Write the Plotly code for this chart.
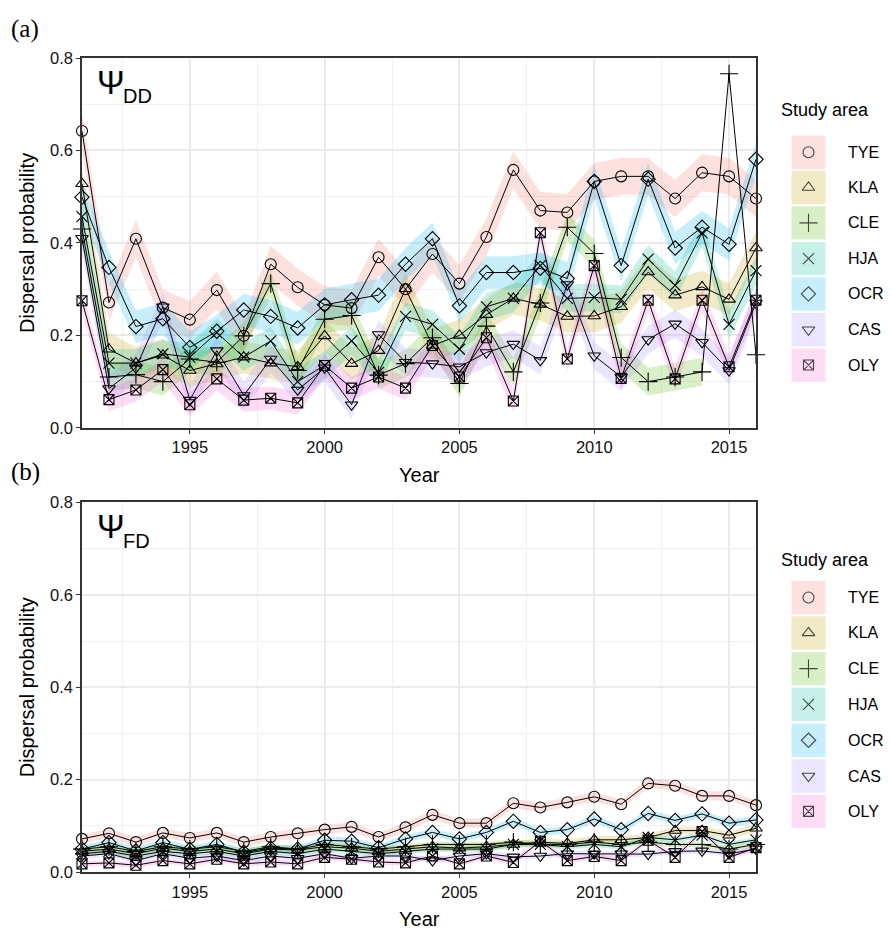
import plotly.graph_objects as go

W, H = 892, 941

years = list(range(1991, 2017))
areas = ["TYE", "KLA", "CLE", "HJA", "OCR", "CAS", "OLY"]
symbols = ["circle-open", "triangle-up-open", "cross-thin-open", "x-thin-open",
           "diamond-open", "triangle-down-open", "square-x-open"]
sizes = [11, 11, 13, 11, 11, 11, 10]
colors = ["248,118,109", "196,154,0", "83,180,0", "0,192,148",
          "0,182,235", "165,138,255", "251,97,215"]

# Panel (a): Psi_DD
tye_dd = [0.642, 0.271, 0.409, 0.260, 0.234, 0.298, 0.199, 0.354, 0.304, 0.266, 0.259, 0.369, 0.300,
          0.376, 0.312, 0.413, 0.558, 0.470, 0.466, 0.533, 0.544, 0.544, 0.496, 0.552, 0.544, 0.496]
kla_dd = [0.528, 0.170, 0.140, 0.157, 0.124, 0.138, 0.153, 0.140, 0.132, 0.199, 0.139, 0.167, 0.301,
          0.178, 0.200, 0.245, 0.280, 0.267, 0.241, 0.242, 0.262, 0.337, 0.287, 0.305, 0.278, 0.389]
cle_dd = [0.430, 0.110, 0.115, 0.100, 0.149, 0.142, 0.199, 0.312, 0.124, 0.235, 0.243, 0.114, 0.139,
          0.195, 0.096, 0.220, 0.121, 0.270, 0.434, 0.377, 0.152, 0.100, 0.110, 0.121, 0.766, 0.158]
hja_dd = [0.457, 0.140, 0.140, 0.160, 0.153, 0.206, 0.153, 0.188, 0.100, 0.135, 0.188, 0.120, 0.241,
          0.224, 0.170, 0.262, 0.280, 0.351, 0.280, 0.282, 0.278, 0.365, 0.308, 0.422, 0.224, 0.340]
ocr_dd = [0.499, 0.347, 0.219, 0.236, 0.174, 0.209, 0.255, 0.241, 0.216, 0.266, 0.277, 0.287, 0.354,
          0.409, 0.264, 0.336, 0.336, 0.345, 0.323, 0.533, 0.351, 0.538, 0.389, 0.434, 0.397, 0.581]
cas_dd = [0.410, 0.085, 0.130, 0.262, 0.060, 0.167, 0.070, 0.149, 0.082, 0.130, 0.050, 0.202, 0.142,
          0.139, 0.132, 0.163, 0.181, 0.146, 0.310, 0.156, 0.110, 0.191, 0.225, 0.185, 0.124, 0.270]
oly_dd = [0.275, 0.061, 0.082, 0.126, 0.050, 0.106, 0.060, 0.064, 0.054, 0.135, 0.086, 0.110, 0.086,
          0.178, 0.110, 0.195, 0.058, 0.422, 0.149, 0.351, 0.107, 0.276, 0.106, 0.276, 0.132, 0.276]

# Panel (b): Psi_FD
tye_fd = [0.072, 0.084, 0.065, 0.085, 0.074, 0.085, 0.065, 0.076, 0.084, 0.092, 0.098, 0.076, 0.097,
          0.124, 0.106, 0.106, 0.149, 0.140, 0.151, 0.163, 0.147, 0.192, 0.187, 0.165, 0.165, 0.145]
kla_fd = [0.045, 0.050, 0.040, 0.052, 0.045, 0.050, 0.040, 0.050, 0.048, 0.055, 0.052, 0.045, 0.050,
          0.055, 0.052, 0.055, 0.060, 0.065, 0.062, 0.070, 0.070, 0.075, 0.090, 0.090, 0.080, 0.095]
cle_fd = [0.050, 0.055, 0.045, 0.055, 0.050, 0.055, 0.045, 0.055, 0.050, 0.060, 0.055, 0.050, 0.055,
          0.060, 0.060, 0.060, 0.065, 0.060, 0.060, 0.065, 0.060, 0.065, 0.060, 0.060, 0.050, 0.060]
hja_fd = [0.040, 0.045, 0.035, 0.045, 0.040, 0.045, 0.035, 0.045, 0.040, 0.050, 0.045, 0.040, 0.045,
          0.050, 0.050, 0.050, 0.060, 0.060, 0.055, 0.060, 0.055, 0.075, 0.070, 0.080, 0.060, 0.070]
ocr_fd = [0.050, 0.064, 0.046, 0.064, 0.049, 0.060, 0.043, 0.052, 0.050, 0.069, 0.067, 0.053, 0.072,
          0.086, 0.072, 0.086, 0.110, 0.086, 0.092, 0.115, 0.092, 0.127, 0.112, 0.126, 0.106, 0.113]
cas_fd = [0.035, 0.040, 0.025, 0.040, 0.030, 0.035, 0.025, 0.035, 0.030, 0.040, 0.030, 0.035, 0.035,
          0.025, 0.035, 0.040, 0.033, 0.035, 0.040, 0.040, 0.040, 0.039, 0.045, 0.046, 0.040, 0.050]
oly_fd = [0.018, 0.020, 0.015, 0.025, 0.018, 0.028, 0.018, 0.022, 0.018, 0.032, 0.028, 0.022, 0.020,
          0.035, 0.018, 0.035, 0.021, 0.067, 0.025, 0.034, 0.025, 0.069, 0.032, 0.088, 0.032, 0.053]

# approximate half-widths of the confidence ribbons for each study area
ci_dd = [0.040, 0.035, 0.030, 0.030, 0.035, 0.030, 0.025]
ci_fd = [0.010, 0.008, 0.006, 0.006, 0.008, 0.006, 0.006]
# last year with a visible ribbon in panel (a) (CLE ribbon is missing after 2014)
ribbon_end_dd = [2016, 2016, 2014, 2016, 2016, 2016, 2016]
ribbon_end_fd = [2016] * 7

series_dd = [tye_dd, kla_dd, cle_dd, hja_dd, ocr_dd, cas_dd, oly_dd]
series_fd = [tye_fd, kla_fd, cle_fd, hja_fd, ocr_fd, cas_fd, oly_fd]

FONT = "Liberation Sans, Arial, Helvetica, sans-serif"
SERIF = "Liberation Serif, Times New Roman, serif"

def px(x):
    return x / W

def py(y):
    return 1 - y / H

fig = go.Figure()

panels = [("x", "y", series_dd, ci_dd, ribbon_end_dd), ("x2", "y2", series_fd, ci_fd, ribbon_end_fd)]
for xr, yr, series, ci, rend in panels:
    for vals, col, hw, ye in zip(series, colors, ci, rend):
        yrs = [yy for yy in years if yy <= ye]
        vv = vals[:len(yrs)]
        up = [v + hw for v in vv]
        lo = [max(v - hw, 0) for v in vv]
        fig.add_trace(go.Scatter(
            x=yrs + yrs[::-1], y=up + lo[::-1], fill="toself",
            fillcolor=f"rgba({col},0.22)", line=dict(width=0), mode="lines",
            xaxis=xr, yaxis=yr, showlegend=False, hoverinfo="skip"))
    for vals, sym, sz in zip(series, symbols, sizes):
        fig.add_trace(go.Scatter(
            x=years, y=vals, mode="lines+markers",
            line=dict(color="black", width=1),
            marker=dict(symbol=sym, size=sz, color="black", line=dict(width=1.1, color="black")),
            xaxis=xr, yaxis=yr, showlegend=False, cliponaxis=False))

# Manual legends on a pixel-coordinate axis placed in the right strip
LX0 = 762
legend_specs = [(103, [146, 182, 218, 254.5, 290.5, 327, 363]),
                (562, [600, 636, 672.5, 709, 745.5, 782, 818])]
shapes = []
annotations = []
for title_y, centers in legend_specs:
    annotations.append(dict(x=px(779), y=py(title_y), xref="paper", yref="paper",
                            text="Study area", showarrow=False, xanchor="left", yanchor="middle",
                            font=dict(family=FONT, size=18, color="black")))
    for area, col, cy in zip(areas, colors, centers):
        shapes.append(dict(type="rect", xref="paper", yref="paper", x0=px(791.5), x1=px(825.5),
                           y0=py(cy + 17), y1=py(cy - 17), fillcolor=f"rgba({col},0.22)",
                           line=dict(width=0), layer="below"))
        annotations.append(dict(x=px(846), y=py(cy), xref="paper", yref="paper",
                                text=area, showarrow=False, xanchor="left", yanchor="middle",
                                font=dict(family=FONT, size=16, color="black")))
    fig.add_trace(go.Scatter(
        x=[808.5] * len(areas), y=centers, mode="markers",
        marker=dict(symbol=symbols, size=sizes, color="black",
                    line=dict(width=1.1, color="black")),
        xaxis="x3", yaxis="y3", showlegend=False, hoverinfo="skip"))

# Panel labels, psi labels, axis titles
for lab, ly in [("(a)", 20), ("(b)", 472)]:
    annotations.append(dict(x=px(9), y=py(ly), xref="paper", yref="paper", text=lab,
                            showarrow=False, xanchor="left", yanchor="middle",
                            font=dict(family=SERIF, size=25, color="black")))
for sub, top in [("DD", 50), ("FD", 503)]:
    annotations.append(dict(x=px(95), y=py(top + 25), xref="paper", yref="paper", text="Ψ",
                            showarrow=False, xanchor="left", yanchor="middle",
                            font=dict(family=FONT, size=33, color="black")))
    annotations.append(dict(x=px(121), y=py(top + 39), xref="paper", yref="paper", text=sub,
                            showarrow=False, xanchor="left", yanchor="middle",
                            font=dict(family=FONT, size=20, color="black")))
for top, bot in [(50, 427), (503, 880)]:
    annotations.append(dict(x=px(27), y=py((top + bot) / 2), xref="paper", yref="paper",
                            text="Dispersal probability", textangle=-90, showarrow=False,
                            xanchor="center", yanchor="middle",
                            font=dict(family=FONT, size=20, color="black")))
    annotations.append(dict(x=px(419), y=py(bot + 48), xref="paper", yref="paper",
                            text="Year", showarrow=False, xanchor="center", yanchor="middle",
                            font=dict(family=FONT, size=20, color="black")))

xdom = [px(82), px(756)]
common_x = dict(range=[1991, 2016], tick0=1995, dtick=5, showgrid=True, gridcolor="#ebebeb",
                gridwidth=1.6, minor=dict(dtick=2.5, showgrid=True, gridcolor="#f0f0f0",
                                          gridwidth=0.8),
                showline=True, mirror=True, linecolor="#333333", linewidth=1.6,
                ticks="outside", ticklen=4, tickcolor="#333333", tickwidth=1.2,
                tickfont=dict(family=FONT, size=16.5, color="#111111"), zeroline=False,
                domain=xdom)
common_y = dict(range=[0, 0.8], tick0=0, dtick=0.2, tickformat=".1f", showgrid=True,
                gridcolor="#ebebeb", gridwidth=1.6,
                minor=dict(dtick=0.1, showgrid=True, gridcolor="#f0f0f0", gridwidth=0.8),
                showline=True, mirror=True, linecolor="#333333", linewidth=1.6,
                ticks="outside", ticklen=4, tickcolor="#333333", tickwidth=1.2,
                tickfont=dict(family=FONT, size=16.5, color="#111111"), zeroline=False)

fig.update_layout(
    width=W, height=H, margin=dict(l=0, r=0, t=0, b=0),
    paper_bgcolor="white", plot_bgcolor="white", showlegend=False,
    xaxis=dict(**common_x, anchor="y"),
    yaxis=dict(**common_y, anchor="x", domain=[py(427), py(50)]),
    xaxis2=dict(**common_x, anchor="y2"),
    yaxis2=dict(**common_y, anchor="x2", domain=[py(880), py(503)]),
    xaxis3=dict(range=[LX0, W], domain=[px(LX0), 1], visible=False, anchor="y3", fixedrange=True),
    yaxis3=dict(range=[H, 0], domain=[0, 1], visible=False, anchor="x3", fixedrange=True),
    shapes=shapes, annotations=annotations,
)

fig.write_html("out.html")
